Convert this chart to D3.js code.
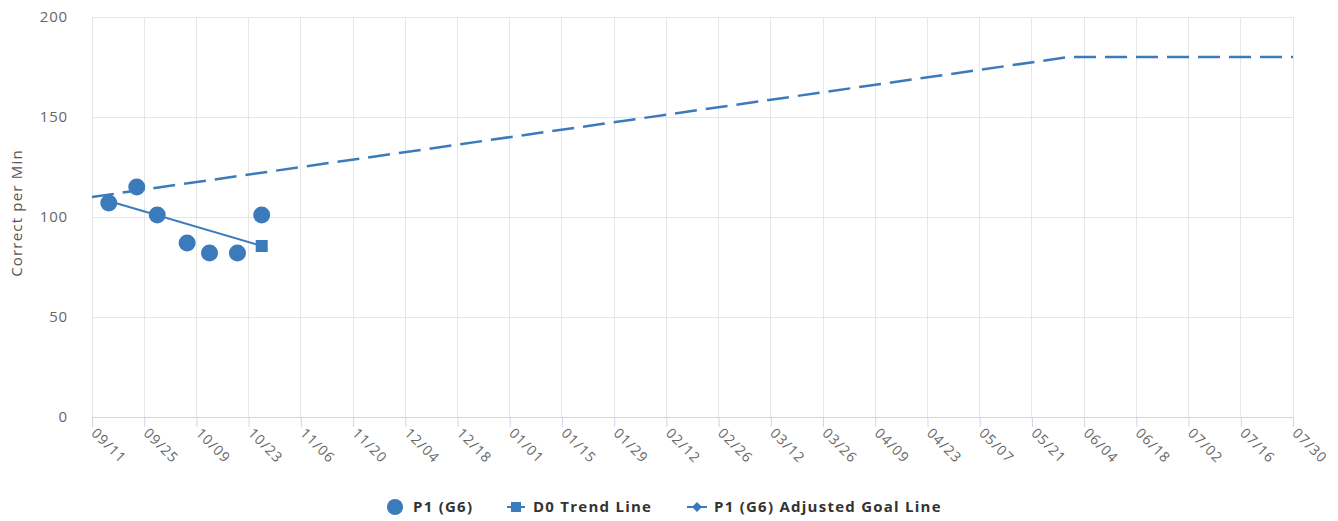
<!DOCTYPE html>
<html><head><meta charset="utf-8">
<script src="https://cdn.jsdelivr.net/npm/d3@7"></script>
<style>body{margin:0;background:#fff;}svg{display:block;}</style>
</head><body>
<svg id="c" width="1338" height="521"></svg>
<script>
const tickDates = ["2017-09-11","2017-09-25","2017-10-09","2017-10-23","2017-11-06","2017-11-20","2017-12-04","2017-12-18","2018-01-01","2018-01-15","2018-01-29","2018-02-12","2018-02-26","2018-03-12","2018-03-26","2018-04-09","2018-04-23","2018-05-07","2018-05-21","2018-06-04","2018-06-18","2018-07-02","2018-07-16","2018-07-30"];
const yTicks = [0,50,100,150,200];
const pointDates = ["2017-09-15T12","2017-09-23T00","2017-09-28T12","2017-10-06T12","2017-10-12T12","2017-10-20T00","2017-10-26T12"];
const pointValues = [107,115,101,87,82,82,101];
const trendDates = ["2017-09-15T12","2017-10-26T12"];
const trendValues = [108,85.5];
const goalDates = ["2017-09-11T00","2018-05-31T00","2018-07-30T00"];
const goalValues = [110,180,180];
const legendNames = ["P1 (G6)","D0 Trend Line","P1 (G6) Adjusted Goal Line"];

const parseD = d3.utcParse("%Y-%m-%d");
const parseT = d3.utcParse("%Y-%m-%dT%H");
const fmt = d3.utcFormat("%m/%d");
const color = "#3b7bbb";
const svg = d3.select("#c");
const L=92,R=1293,T=17,B=417;
const x = d3.scaleUtc().domain([parseD(tickDates[0]), parseD(tickDates[tickDates.length-1])]).range([L,R]);
const y = d3.scaleLinear().domain([0,200]).range([B,T]);
const font = "'Open Sans', 'DejaVu Sans', sans-serif";

// grid
svg.append("g").selectAll("line").data(yTicks).join("line")
  .attr("x1",L).attr("x2",R).attr("y1",d=>y(d)).attr("y2",d=>y(d))
  .attr("stroke","#e6e6e6").attr("stroke-width",1).attr("shape-rendering","crispEdges");
svg.append("g").selectAll("line").data(tickDates).join("line")
  .attr("x1",d=>x(parseD(d))).attr("x2",d=>x(parseD(d))).attr("y1",T).attr("y2",B)
  .attr("stroke","#e6e6e6").attr("stroke-width",1).attr("shape-rendering","crispEdges");

// x axis
const xa = svg.append("g").attr("transform",`translate(0,${B})`)
  .call(d3.axisBottom(x).tickValues(tickDates.map(parseD)).tickFormat(fmt).tickSize(10).tickSizeOuter(0));
xa.select(".domain").attr("stroke","#ccd6eb");
xa.selectAll(".tick line").attr("stroke","#ccd6eb");
xa.selectAll(".tick text").attr("font-family",font).attr("font-size",14).attr("fill","#666")
  .attr("letter-spacing","1px")
  .attr("text-anchor","start").attr("dy",null).attr("y",0)
  .attr("transform","translate(-2,17) rotate(45)");

// y axis
const ya = svg.append("g").attr("transform",`translate(${L},0)`)
  .call(d3.axisLeft(y).tickValues(yTicks).tickSize(0).tickPadding(24));
ya.select(".domain").remove();
ya.selectAll(".tick text").attr("font-family",font).attr("font-size",15).attr("fill","#666").attr("letter-spacing","0.8px");
svg.append("text").attr("transform",`translate(22,${(T+B)/2-4}) rotate(-90)`)
  .attr("text-anchor","middle").attr("font-family",font).attr("font-size",15).attr("fill","#555")
  .attr("letter-spacing","1.2px")
  .text("Correct per Min");

// goal line
const line = d3.line().x(d=>x(d[0])).y(d=>y(d[1]));
svg.append("path").datum(goalDates.map((d,i)=>[parseT(d),goalValues[i]]))
  .attr("d",line).attr("fill","none").attr("stroke",color).attr("stroke-width",2.5)
  .attr("stroke-dasharray","22,9");

// trend line
const trendData = trendDates.map((d,i)=>[parseT(d),trendValues[i]]);
svg.append("path").datum(trendData).attr("d",line).attr("fill","none").attr("stroke",color).attr("stroke-width",2);
svg.append("g").selectAll("rect").data(trendData.slice(1)).join("rect")
  .attr("x",d=>x(d[0])-6).attr("y",d=>y(d[1])-6).attr("width",12).attr("height",12).attr("fill",color);

// points
svg.append("g").selectAll("circle").data(pointDates.map((d,i)=>[parseT(d),pointValues[i]])).join("circle")
  .attr("cx",d=>x(d[0])).attr("cy",d=>y(d[1])).attr("r",8.5).attr("fill",color);

// legend
const ly = 507;
const lg = svg.append("g");
lg.append("circle").attr("cx",395).attr("cy",ly).attr("r",8).attr("fill",color);
lg.append("text").attr("x",413).attr("y",ly+5).text(legendNames[0]);
lg.append("line").attr("x1",507).attr("x2",525).attr("y1",ly).attr("y2",ly).attr("stroke",color).attr("stroke-width",2);
lg.append("rect").attr("x",511).attr("y",ly-5).attr("width",10).attr("height",10).attr("fill",color);
lg.append("text").attr("x",533).attr("y",ly+5).text(legendNames[1]);
lg.append("line").attr("x1",687).attr("x2",707).attr("y1",ly).attr("y2",ly).attr("stroke",color).attr("stroke-width",2);
lg.append("path").attr("d",`M697,${ly-5}L702,${ly}L697,${ly+5}L692,${ly}Z`).attr("fill",color);
lg.append("text").attr("x",714).attr("y",ly+5).text(legendNames[2]);
lg.selectAll("text").attr("font-family",font).attr("font-size",15).attr("font-weight","bold").attr("fill","#333")
  .attr("letter-spacing","1.25px");
</script>
</body></html>
